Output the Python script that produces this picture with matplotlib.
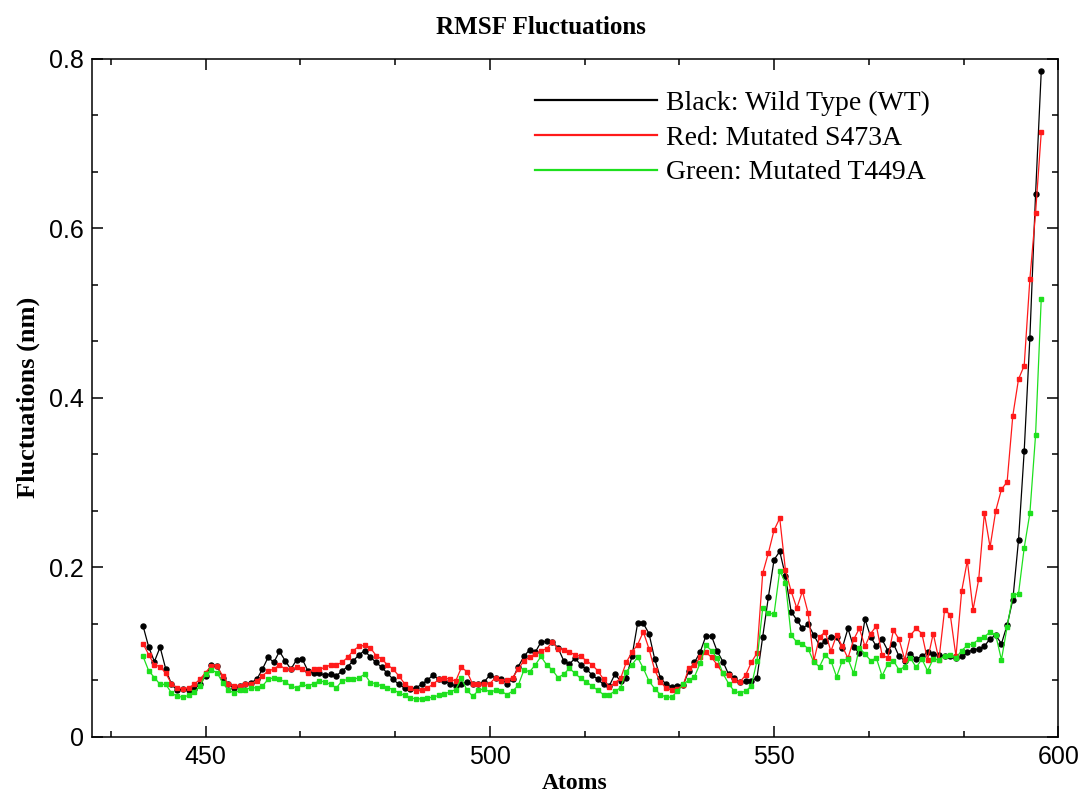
import matplotlib
matplotlib.use('Agg')
import matplotlib.pyplot as plt
import numpy as np
from matplotlib.ticker import MultipleLocator, AutoMinorLocator, FuncFormatter

atoms = np.arange(439, 598)

wild_type = [
    0.131, 0.106, 0.089, 0.106, 0.080, 0.062, 0.055, 0.057, 0.056, 0.057,
    0.062, 0.072, 0.085, 0.084, 0.070, 0.062, 0.058, 0.060, 0.062, 0.064,
    0.068, 0.080, 0.094, 0.088, 0.101, 0.090, 0.080, 0.091, 0.092, 0.078,
    0.075, 0.075, 0.073, 0.074, 0.072, 0.078, 0.083, 0.090, 0.097, 0.102,
    0.094, 0.088, 0.082, 0.075, 0.068, 0.062, 0.058, 0.057, 0.058, 0.062,
    0.067, 0.073, 0.068, 0.066, 0.063, 0.060, 0.062, 0.065, 0.063, 0.062,
    0.065, 0.073, 0.070, 0.068, 0.063, 0.068, 0.083, 0.095, 0.103, 0.100,
    0.112, 0.113, 0.112, 0.105, 0.090, 0.086, 0.093, 0.085, 0.080, 0.073,
    0.068, 0.062, 0.060, 0.074, 0.066, 0.070, 0.095, 0.134, 0.134, 0.122,
    0.092, 0.070, 0.062, 0.059, 0.060, 0.061, 0.078, 0.088, 0.100, 0.119,
    0.119, 0.101, 0.089, 0.074, 0.069, 0.065, 0.066, 0.066, 0.070, 0.118,
    0.165, 0.209, 0.219, 0.190, 0.148, 0.138, 0.128, 0.133, 0.120, 0.108,
    0.113, 0.118, 0.118, 0.105, 0.128, 0.106, 0.099, 0.139, 0.118, 0.107,
    0.115, 0.102, 0.110, 0.095, 0.090, 0.098, 0.092, 0.095, 0.100, 0.098,
    0.097, 0.095, 0.096, 0.093, 0.095, 0.100, 0.103, 0.104, 0.107, 0.116,
    0.120, 0.110, 0.132, 0.162, 0.232, 0.337, 0.471, 0.640, 0.785,
]

s473a = [
    0.110, 0.097, 0.085, 0.083, 0.075, 0.063, 0.058, 0.057, 0.058, 0.062,
    0.068, 0.076, 0.084, 0.084, 0.072, 0.063, 0.060, 0.060, 0.062, 0.063,
    0.066, 0.072, 0.078, 0.080, 0.085, 0.080, 0.080, 0.082, 0.080, 0.076,
    0.080, 0.080, 0.082, 0.085, 0.085, 0.088, 0.094, 0.102, 0.107, 0.108,
    0.105, 0.096, 0.092, 0.085, 0.080, 0.072, 0.063, 0.058, 0.054, 0.055,
    0.058, 0.062, 0.068, 0.070, 0.068, 0.066, 0.082, 0.077, 0.062, 0.063,
    0.062, 0.063, 0.070, 0.066, 0.067, 0.070, 0.080, 0.090, 0.094, 0.098,
    0.102, 0.104, 0.112, 0.104, 0.103, 0.100, 0.097, 0.095, 0.090, 0.085,
    0.078, 0.068, 0.059, 0.064, 0.069, 0.088, 0.100, 0.109, 0.124, 0.104,
    0.079, 0.065, 0.058, 0.055, 0.057, 0.061, 0.081, 0.085, 0.094, 0.100,
    0.094, 0.085, 0.075, 0.073, 0.067, 0.065, 0.073, 0.088, 0.099, 0.193,
    0.217, 0.244, 0.258, 0.197, 0.172, 0.152, 0.172, 0.146, 0.090, 0.118,
    0.124, 0.101, 0.120, 0.107, 0.093, 0.115, 0.128, 0.107, 0.122, 0.131,
    0.097, 0.093, 0.126, 0.115, 0.091, 0.120, 0.128, 0.122, 0.091, 0.122,
    0.091, 0.150, 0.144, 0.095, 0.172, 0.208, 0.150, 0.186, 0.264, 0.224,
    0.267, 0.292, 0.301, 0.379, 0.422, 0.438, 0.540, 0.618, 0.713,
]

t449a = [
    0.095, 0.078, 0.070, 0.062, 0.062, 0.052, 0.048, 0.047, 0.049, 0.053,
    0.060, 0.074, 0.079, 0.076, 0.064, 0.055, 0.052, 0.055, 0.056, 0.058,
    0.058, 0.060, 0.068, 0.070, 0.068, 0.065, 0.060, 0.058, 0.062, 0.060,
    0.063, 0.066, 0.065, 0.062, 0.058, 0.066, 0.068, 0.068, 0.070, 0.074,
    0.064, 0.063, 0.060, 0.058, 0.056, 0.052, 0.049, 0.046, 0.045, 0.045,
    0.046, 0.047, 0.049, 0.051, 0.053, 0.056, 0.069, 0.055, 0.048, 0.055,
    0.057, 0.053, 0.055, 0.054, 0.050, 0.054, 0.061, 0.079, 0.077, 0.085,
    0.095, 0.085, 0.079, 0.070, 0.074, 0.081, 0.075, 0.069, 0.065, 0.060,
    0.055, 0.050, 0.050, 0.054, 0.058, 0.077, 0.085, 0.094, 0.081, 0.066,
    0.057, 0.050, 0.047, 0.047, 0.054, 0.062, 0.067, 0.071, 0.087, 0.108,
    0.102, 0.093, 0.075, 0.063, 0.054, 0.052, 0.054, 0.060, 0.090, 0.152,
    0.146, 0.145, 0.196, 0.182, 0.120, 0.112, 0.110, 0.104, 0.088, 0.083,
    0.097, 0.090, 0.071, 0.090, 0.092, 0.075, 0.105, 0.098, 0.090, 0.093,
    0.072, 0.086, 0.090, 0.079, 0.083, 0.093, 0.082, 0.092, 0.078, 0.092,
    0.091, 0.096, 0.097, 0.093, 0.102, 0.108, 0.110, 0.115, 0.118, 0.124,
    0.120, 0.091, 0.130, 0.167, 0.169, 0.223, 0.264, 0.356, 0.517,
]

labels = ['Black: Wild Type (WT)', 'Red: Mutated S473A', 'Green: Mutated T449A']

serif = 'Liberation Serif'
sans = 'Liberation Sans'

fig = plt.figure(figsize=(10.81, 7.97), dpi=100)
fig.patch.set_facecolor('white')
ax = fig.add_axes([0.085, 0.0753, 0.894, 0.851])

ax.plot(atoms, wild_type, color='black', lw=0.9, marker='o', ms=3.6, label=labels[0])
ax.plot(atoms, s473a, color='#ff1a1a', lw=0.9, marker='s', ms=3.4, label=labels[1])
ax.plot(atoms, t449a, color='#1ee01e', lw=0.9, marker='s', ms=3.4, label=labels[2])

ax.set_xlim(430, 600)
ax.set_ylim(0, 0.8)
ax.xaxis.set_major_locator(MultipleLocator(50))
ax.xaxis.set_minor_locator(AutoMinorLocator(3))
ax.yaxis.set_major_locator(MultipleLocator(0.2))
ax.yaxis.set_minor_locator(AutoMinorLocator(3))
ax.yaxis.set_major_formatter(FuncFormatter(lambda v, p: '0' if abs(v) < 1e-9 else f'{v:.1f}'))
ax.tick_params(which='both', direction='in', top=True, right=True, width=1.1)
ax.tick_params(which='major', length=8, labelsize=18, pad=6)
ax.tick_params(which='minor', length=4)
for lab in ax.get_xticklabels() + ax.get_yticklabels():
    lab.set_fontfamily(sans)
for sp in ax.spines.values():
    sp.set_linewidth(1.1)

ax.set_xlabel('Atoms', fontsize=17, fontweight='bold', family=serif, labelpad=3)
ax.set_ylabel('Fluctuations (nm)', fontsize=19, fontweight='bold', family=serif, labelpad=6)
fig.text(0.5, 0.965, 'RMSF Fluctuations', fontsize=18, fontweight='bold',
         family=serif, ha='center', va='center')

leg = ax.legend(loc='upper left', bbox_to_anchor=(0.458, 0.953), frameon=False,
                handlelength=4.4, handletextpad=0.35, labelspacing=0.33,
                borderpad=0, borderaxespad=0,
                prop={'family': serif, 'size': 20})
for h in leg.get_lines():
    h.set_marker('')
    h.set_linewidth(1.6)

fig.savefig('out.png', dpi=100)
